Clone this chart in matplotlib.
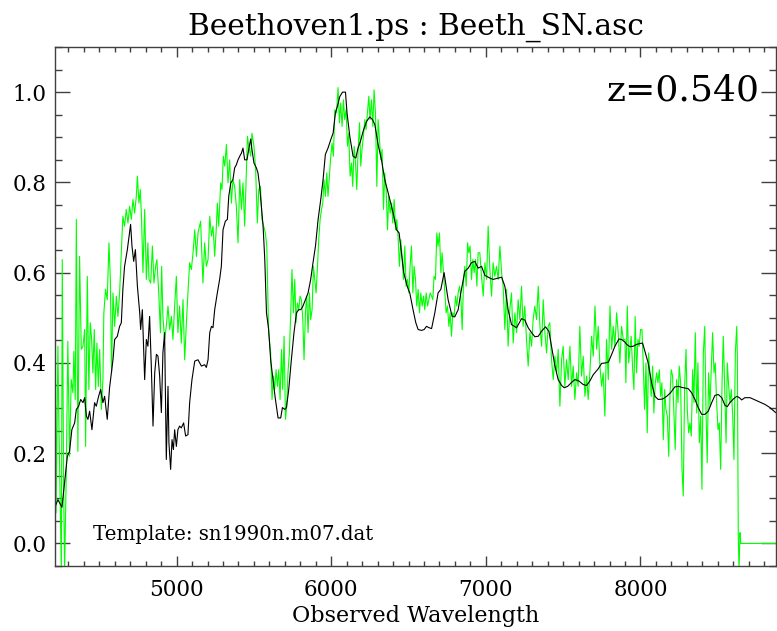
import matplotlib
matplotlib.use("Agg")
import matplotlib.pyplot as plt
from matplotlib.ticker import MultipleLocator, FormatStrFormatter

# template spectrum (smooth, black)
tmpl_wave = [
    4212, 4232, 4258, 4275, 4293, 4307, 4322, 4340, 4351, 4366,
    4379, 4394, 4405, 4416, 4426, 4437, 4452, 4469, 4480, 4495,
    4508, 4523, 4534, 4551, 4566, 4588, 4599, 4616, 4631, 4642,
    4652, 4663, 4681, 4689, 4702, 4711, 4722, 4733, 4746, 4761,
    4767, 4778, 4793, 4804, 4814, 4825, 4836, 4847, 4858, 4869,
    4879, 4890, 4901, 4911, 4922, 4933, 4944, 4950, 4961, 4970,
    4979, 4987, 4998, 5008, 5019, 5030, 5045, 5058, 5073, 5084,
    5099, 5117, 5138, 5160, 5181, 5192, 5203, 5214, 5225, 5235,
    5246, 5263, 5278, 5289, 5300, 5315, 5328, 5337, 5350, 5364,
    5375, 5386, 5397, 5408, 5419, 5429, 5440, 5455, 5466, 5479,
    5487, 5500, 5516, 5526, 5537, 5548, 5559, 5570, 5581, 5595,
    5608, 5623, 5639, 5656, 5673, 5684, 5699, 5710, 5725, 5742,
    5759, 5775, 5790, 5803, 5817, 5833, 5850, 5867, 5882, 5898,
    5915, 5932, 5947, 5962, 5979, 5997, 6012, 6027, 6040, 6055,
    6073, 6092, 6102, 6120, 6141, 6159, 6173, 6189, 6206, 6228,
    6249, 6267, 6282, 6303, 6325, 6346, 6368, 6390, 6405, 6422,
    6439, 6454, 6469, 6491, 6508, 6529, 6547, 6562, 6584, 6601,
    6616, 6633, 6649, 6670, 6691, 6709, 6730, 6756, 6782, 6799,
    6821, 6838, 6864, 6886, 6907, 6929, 6950, 6972, 6994, 7026,
    7047, 7080, 7102, 7123, 7144, 7166, 7199, 7231, 7252, 7274,
    7296, 7317, 7339, 7360, 7386, 7408, 7425, 7447, 7468, 7490,
    7507, 7529, 7555, 7576, 7602, 7630, 7652, 7673, 7695, 7727,
    7749, 7775, 7793, 7814, 7835, 7861, 7878, 7900, 7911, 7932,
    7954, 7975, 7997, 8014, 8029, 8050, 8072, 8094, 8115, 8144,
    8170, 8195, 8223, 8245, 8277, 8309, 8331, 8353, 8374, 8396,
    8417, 8439, 8461, 8482, 8504, 8526, 8547, 8562, 8579, 8601,
    8623, 8640, 8655, 8676, 8709, 8741, 8773, 8806, 8838, 8871,
    8885,
]
tmpl_flux = [
    0.080, 0.097, 0.080, 0.135, 0.193, 0.204, 0.252, 0.267, 0.297, 0.304,
    0.319, 0.312, 0.323, 0.282, 0.275, 0.293, 0.252, 0.312, 0.304, 0.326,
    0.341, 0.312, 0.326, 0.275, 0.345, 0.407, 0.452, 0.459, 0.481, 0.489,
    0.563, 0.614, 0.651, 0.673, 0.707, 0.659, 0.625, 0.651, 0.570, 0.511,
    0.474, 0.518, 0.363, 0.452, 0.437, 0.503, 0.393, 0.260, 0.378, 0.419,
    0.415, 0.371, 0.290, 0.422, 0.467, 0.186, 0.348, 0.223, 0.164, 0.230,
    0.208, 0.252, 0.215, 0.252, 0.260, 0.256, 0.267, 0.238, 0.241, 0.312,
    0.363, 0.404, 0.407, 0.393, 0.396, 0.390, 0.407, 0.467, 0.481, 0.478,
    0.518, 0.555, 0.585, 0.614, 0.695, 0.714, 0.718, 0.769, 0.799, 0.806,
    0.832, 0.839, 0.850, 0.858, 0.865, 0.876, 0.850, 0.850, 0.873, 0.896,
    0.873, 0.843, 0.832, 0.821, 0.791, 0.747, 0.703, 0.629, 0.511, 0.474,
    0.407, 0.363, 0.319, 0.278, 0.278, 0.301, 0.297, 0.301, 0.341, 0.407,
    0.467, 0.511, 0.518, 0.518, 0.526, 0.540, 0.555, 0.585, 0.622, 0.659,
    0.718, 0.762, 0.806, 0.862, 0.876, 0.895, 0.909, 0.954, 0.969, 0.990,
    1.000, 1.000, 0.954, 0.902, 0.858, 0.854, 0.876, 0.891, 0.913, 0.935,
    0.945, 0.939, 0.928, 0.884, 0.850, 0.806, 0.777, 0.747, 0.725, 0.695,
    0.688, 0.644, 0.600, 0.570, 0.555, 0.518, 0.489, 0.474, 0.472, 0.474,
    0.481, 0.478, 0.476, 0.511, 0.555, 0.563, 0.600, 0.540, 0.503, 0.502,
    0.518, 0.555, 0.603, 0.610, 0.622, 0.625, 0.610, 0.614, 0.594, 0.588,
    0.585, 0.588, 0.590, 0.570, 0.518, 0.485, 0.478, 0.498, 0.495, 0.478,
    0.467, 0.458, 0.459, 0.470, 0.480, 0.470, 0.437, 0.393, 0.363, 0.350,
    0.345, 0.348, 0.357, 0.363, 0.360, 0.352, 0.350, 0.360, 0.374, 0.387,
    0.399, 0.400, 0.402, 0.419, 0.437, 0.453, 0.452, 0.446, 0.441, 0.436,
    0.437, 0.441, 0.443, 0.444, 0.426, 0.400, 0.356, 0.326, 0.319, 0.320,
    0.326, 0.334, 0.347, 0.348, 0.345, 0.343, 0.334, 0.319, 0.301, 0.286,
    0.286, 0.293, 0.312, 0.328, 0.330, 0.323, 0.306, 0.303, 0.312, 0.320,
    0.326, 0.323, 0.318, 0.323, 0.323, 0.318, 0.313, 0.308, 0.301, 0.291,
    0.288,
]

# observed spectrum (noisy, green)
obs_wave = [
    4214, 4220, 4232, 4238, 4254, 4260, 4269, 4275, 4286, 4296,
    4307, 4318, 4329, 4335, 4344, 4351, 4361, 4372, 4383, 4394,
    4405, 4411, 4422, 4432, 4441, 4450, 4458, 4467, 4476, 4484,
    4493, 4502, 4513, 4523, 4529, 4540, 4551, 4562, 4571, 4579,
    4588, 4599, 4610, 4620, 4631, 4642, 4652, 4663, 4674, 4685,
    4696, 4707, 4717, 4728, 4739, 4746, 4756, 4765, 4773, 4782,
    4793, 4804, 4814, 4821, 4832, 4843, 4853, 4864, 4872, 4884,
    4895, 4903, 4911, 4922, 4933, 4944, 4955, 4966, 4976, 4987,
    4998, 5008, 5019, 5030, 5041, 5052, 5063, 5073, 5084, 5095,
    5106, 5117, 5128, 5138, 5155, 5170, 5181, 5192, 5203, 5214,
    5225, 5235, 5246, 5257, 5263, 5272, 5285, 5293, 5302, 5311,
    5322, 5332, 5343, 5354, 5364, 5375, 5386, 5397, 5408, 5419,
    5429, 5440, 5451, 5458, 5466, 5479, 5487, 5500, 5511, 5522,
    5531, 5542, 5552, 5563, 5574, 5583, 5595, 5608, 5617, 5626,
    5634, 5643, 5652, 5660, 5669, 5678, 5686, 5695, 5704, 5712,
    5720, 5729, 5738, 5746, 5755, 5764, 5772, 5781, 5790, 5798,
    5807, 5816, 5824, 5833, 5841, 5850, 5859, 5867, 5876, 5885,
    5893, 5902, 5911, 5919, 5928, 5937, 5945, 5953, 5962, 5971,
    5979, 5988, 5997, 6005, 6014, 6023, 6034, 6044, 6053, 6061,
    6070, 6079, 6087, 6096, 6105, 6113, 6122, 6131, 6139, 6148,
    6157, 6165, 6174, 6183, 6191, 6199, 6208, 6217, 6225, 6234,
    6243, 6251, 6260, 6269, 6277, 6286, 6295, 6303, 6312, 6320,
    6329, 6338, 6346, 6355, 6364, 6372, 6381, 6390, 6398, 6407,
    6416, 6424, 6432, 6441, 6450, 6458, 6467, 6476, 6484, 6493,
    6502, 6510, 6519, 6528, 6536, 6545, 6553, 6562, 6571, 6579,
    6588, 6597, 6605, 6614, 6623, 6631, 6640, 6649, 6657, 6665,
    6674, 6683, 6691, 6700, 6709, 6717, 6726, 6735, 6743, 6752,
    6761, 6769, 6778, 6786, 6795, 6804, 6812, 6821, 6830, 6838,
    6847, 6856, 6864, 6873, 6882, 6890, 6898, 6907, 6916, 6924,
    6933, 6942, 6950, 6961, 6972, 6983, 6994, 7005, 7015, 7026,
    7037, 7047, 7058, 7069, 7080, 7091, 7102, 7112, 7123, 7134,
    7144, 7155, 7166, 7177, 7188, 7199, 7209, 7220, 7231, 7241,
    7252, 7263, 7274, 7285, 7296, 7306, 7317, 7328, 7339, 7350,
    7361, 7371, 7382, 7393, 7403, 7414, 7425, 7436, 7447, 7458,
    7468, 7479, 7490, 7500, 7511, 7522, 7533, 7544, 7555, 7565,
    7576, 7587, 7597, 7608, 7619, 7630, 7641, 7652, 7662, 7673,
    7684, 7695, 7706, 7717, 7727, 7738, 7749, 7759, 7770, 7781,
    7792, 7803, 7814, 7824, 7835, 7846, 7856, 7867, 7878, 7889,
    7900, 7906, 7915, 7924, 7932, 7940, 7950, 7958, 7966, 7975,
    7984, 7992, 8001, 8010, 8018, 8027, 8036, 8044, 8053, 8062,
    8070, 8079, 8087, 8096, 8105, 8113, 8122, 8131, 8139, 8148,
    8157, 8165, 8174, 8183, 8191, 8199, 8208, 8217, 8225, 8234,
    8243, 8251, 8260, 8269, 8277, 8286, 8295, 8303, 8312, 8320,
    8329, 8338, 8346, 8355, 8364, 8372, 8381, 8390, 8398, 8407,
    8416, 8424, 8432, 8441, 8450, 8458, 8467, 8476, 8484, 8493,
    8502, 8510, 8519, 8528, 8536, 8545, 8554, 8562, 8571, 8579,
    8588, 8597, 8605, 8614, 8623, 8627, 8633, 8638, 8644, 8649,
    8885,
]
obs_flux = [
    0.636, 0.068, 0.437, 0.267, -0.060, 0.629, 0.120, -0.060, 0.157, 0.448,
    0.193, 0.363, 0.334, 0.426, 0.319, 0.718, 0.204, 0.636, 0.430, 0.437,
    0.474, 0.215, 0.592, 0.341, 0.489, 0.452, 0.378, 0.474, 0.341, 0.444,
    0.348, 0.430, 0.297, 0.363, 0.511, 0.563, 0.540, 0.666, 0.585, 0.378,
    0.555, 0.481, 0.548, 0.503, 0.555, 0.644, 0.725, 0.703, 0.740, 0.710,
    0.747, 0.718, 0.762, 0.732, 0.769, 0.814, 0.754, 0.784, 0.718, 0.600,
    0.740, 0.585, 0.666, 0.585, 0.577, 0.659, 0.577, 0.614, 0.629, 0.555,
    0.467, 0.614, 0.503, 0.452, 0.481, 0.526, 0.474, 0.503, 0.452, 0.526,
    0.592, 0.467, 0.526, 0.444, 0.540, 0.407, 0.489, 0.555, 0.622, 0.607,
    0.644, 0.695, 0.636, 0.688, 0.714, 0.577, 0.666, 0.614, 0.629, 0.725,
    0.681, 0.703, 0.636, 0.703, 0.754, 0.703, 0.799, 0.784, 0.858, 0.836,
    0.884, 0.799, 0.850, 0.754, 0.806, 0.791, 0.747, 0.666, 0.806, 0.740,
    0.799, 0.703, 0.828, 0.902, 0.880, 0.858, 0.909, 0.880, 0.828, 0.710,
    0.784, 0.791, 0.718, 0.703, 0.688, 0.659, 0.467, 0.422, 0.319, 0.371,
    0.341, 0.385, 0.348, 0.385, 0.319, 0.430, 0.341, 0.459, 0.275, 0.304,
    0.378, 0.422, 0.511, 0.607, 0.511, 0.585, 0.489, 0.533, 0.518, 0.548,
    0.540, 0.496, 0.407, 0.511, 0.548, 0.467, 0.555, 0.496, 0.518, 0.614,
    0.585, 0.555, 0.614, 0.673, 0.718, 0.740, 0.754, 0.806, 0.769, 0.821,
    0.769, 0.814, 0.858, 0.887, 0.858, 0.961, 0.954, 1.010, 0.932, 0.976,
    0.924, 0.983, 0.939, 0.961, 0.880, 0.909, 0.814, 0.843, 0.791, 0.880,
    0.843, 0.784, 0.873, 0.932, 0.836, 0.873, 0.902, 0.939, 0.917, 0.954,
    0.991, 0.939, 0.983, 0.924, 1.005, 0.954, 0.791, 0.939, 0.895, 0.850,
    0.873, 0.740, 0.821, 0.784, 0.695, 0.769, 0.732, 0.754, 0.710, 0.762,
    0.695, 0.718, 0.681, 0.614, 0.673, 0.636, 0.585, 0.659, 0.570, 0.585,
    0.555, 0.614, 0.659, 0.555, 0.614, 0.585, 0.526, 0.563, 0.511, 0.555,
    0.526, 0.548, 0.518, 0.555, 0.526, 0.540, 0.555, 0.548, 0.540, 0.592,
    0.585, 0.688, 0.659, 0.688, 0.600, 0.644, 0.600, 0.555, 0.511, 0.526,
    0.481, 0.511, 0.459, 0.511, 0.503, 0.548, 0.526, 0.555, 0.570, 0.548,
    0.474, 0.585, 0.614, 0.570, 0.666, 0.644, 0.659, 0.585, 0.629, 0.600,
    0.629, 0.570, 0.644, 0.644, 0.592, 0.548, 0.622, 0.585, 0.703, 0.607,
    0.548, 0.622, 0.592, 0.614, 0.585, 0.659, 0.600, 0.570, 0.474, 0.563,
    0.437, 0.518, 0.555, 0.444, 0.511, 0.467, 0.540, 0.496, 0.570, 0.481,
    0.526, 0.452, 0.393, 0.467, 0.437, 0.496, 0.526, 0.496, 0.570, 0.481,
    0.437, 0.540, 0.467, 0.422, 0.481, 0.489, 0.407, 0.363, 0.415, 0.378,
    0.430, 0.304, 0.407, 0.437, 0.348, 0.407, 0.363, 0.437, 0.348, 0.393,
    0.319, 0.378, 0.348, 0.481, 0.371, 0.415, 0.326, 0.371, 0.319, 0.378,
    0.459, 0.415, 0.526, 0.430, 0.481, 0.393, 0.348, 0.378, 0.282, 0.452,
    0.363, 0.526, 0.430, 0.481, 0.437, 0.511, 0.467, 0.400, 0.481, 0.452,
    0.452, 0.356, 0.526, 0.400, 0.430, 0.459, 0.385, 0.341, 0.503, 0.378,
    0.452, 0.437, 0.474, 0.474, 0.400, 0.297, 0.400, 0.245, 0.422, 0.371,
    0.326, 0.393, 0.289, 0.356, 0.378, 0.356, 0.385, 0.326, 0.356, 0.230,
    0.341, 0.297, 0.282, 0.193, 0.326, 0.385, 0.371, 0.282, 0.208, 0.363,
    0.312, 0.393, 0.356, 0.164, 0.105, 0.348, 0.430, 0.297, 0.245, 0.267,
    0.238, 0.385, 0.312, 0.467, 0.289, 0.400, 0.223, 0.282, 0.120, 0.422,
    0.481, 0.297, 0.179, 0.378, 0.304, 0.385, 0.467, 0.378, 0.400, 0.312,
    0.252, 0.267, 0.164, 0.356, 0.459, 0.348, 0.223, 0.400, 0.348, 0.312,
    0.341, 0.282, 0.186, 0.422, 0.481, 0.415, 0.016, -0.060, 0.024, 0.000,
    0.000,
]

plt.rcParams['font.family'] = 'DejaVu Serif'

fig = plt.figure(figsize=(7.77, 6.31), dpi=100)
ax = fig.add_axes([55 / 777, 65 / 631, 721 / 777, 519 / 631])

ax.plot(obs_wave, obs_flux, color='#00ff00', lw=0.8)
ax.plot(tmpl_wave, tmpl_flux, color='black', lw=0.8)

ax.set_xlim(4213, 8877)
ax.set_ylim(-0.05, 1.1)

ax.xaxis.set_major_locator(MultipleLocator(1000))
ax.xaxis.set_minor_locator(MultipleLocator(100))
ax.yaxis.set_major_locator(MultipleLocator(0.2))
ax.yaxis.set_minor_locator(MultipleLocator(0.05))
ax.yaxis.set_major_formatter(FormatStrFormatter('%.1f'))

ax.tick_params(which='both', direction='in', top=True, right=True,
               color='#404040', width=1, labelsize=15.5)
ax.tick_params(axis='x', which='major', length=7.5, pad=9)
ax.tick_params(axis='x', which='minor', length=3.8)
ax.tick_params(axis='y', which='major', length=10.5, pad=6)
ax.tick_params(axis='y', which='minor', length=5.2)
for sp in ax.spines.values():
    sp.set_color('#404040')
    sp.set_linewidth(1)

ax.set_xlabel('Observed Wavelength', fontsize=16, labelpad=3)
ax.set_title('Beethoven1.ps : Beeth_SN.asc', fontsize=21.3, pad=9)
ax.text(8773, 0.981, 'z=0.540', fontsize=26, ha='right', va='baseline')
ax.text(4456, 0.008, 'Template: sn1990n.m07.dat', fontsize=14.2,
        ha='left', va='baseline')

fig.savefig('out.png', dpi=100)
